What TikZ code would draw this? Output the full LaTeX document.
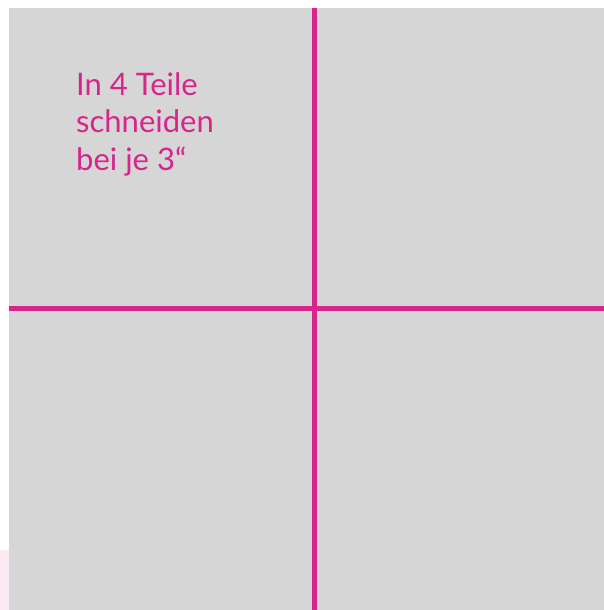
\documentclass[tikz,border=0pt]{standalone}
\usepackage{fontspec}
\setmainfont{Lato}
\definecolor{cutpink}{RGB}{216,37,140}
\definecolor{paper}{RGB}{214,214,214}
\definecolor{faintpink}{RGB}{249,234,243}
\tikzset{cutline/.style={draw=cutpink,line width=5pt},
  label/.style={text=cutpink,anchor=base west,align=left,inner sep=0pt,font=\fontsize{31}{37.5}\selectfont}}
\begin{document}
\begin{tikzpicture}[x=1pt,y=-1pt]
\useasboundingbox (0,0) rectangle (604,610);
\fill[faintpink] (0,550) rectangle (9,610);
\fill[paper] (9,8) rectangle (604,610);
\coordinate (vt) at (314,8);
\coordinate (vb) at (314,610);
\coordinate (hl) at (9,308);
\coordinate (hr) at (604,308);
\draw[cutline] (vt) -- (vb);
\draw[cutline] (hl) -- (hr);
\node[label] (txt) at (76,170) {In 4 Teile\\schneiden\\bei je 3“};
\end{tikzpicture}
\end{document}
